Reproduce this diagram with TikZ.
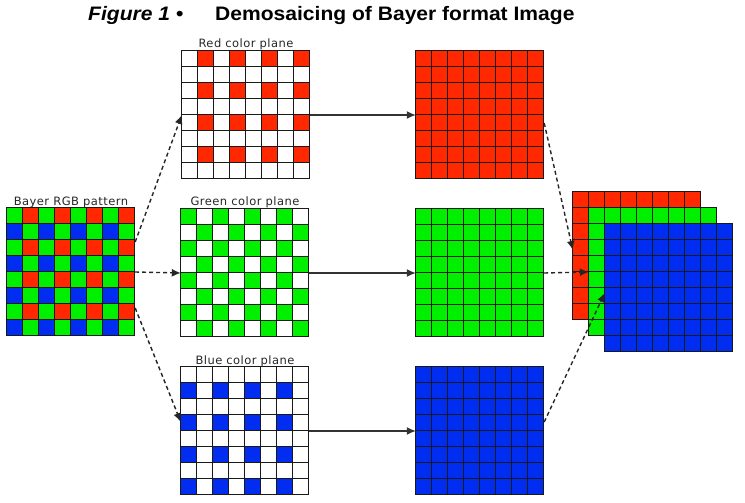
\documentclass[tikz,border=0pt]{standalone}
\usepackage{fontspec}
\setmainfont{Liberation Sans}
\newfontfamily\labelfont[LetterSpace=4]{DejaVu Sans}
\newfontfamily\headfont[FakeStretch=1.08]{Liberation Sans}
\usetikzlibrary{arrows.meta,calc,positioning}

\definecolor{bred}{RGB}{255,40,0}
\definecolor{bgreen}{RGB}{0,240,0}
\definecolor{bblue}{RGB}{0,45,240}

\tikzset{
  plane/.style={minimum size=128pt, inner sep=0pt},
  cellbox/.style={draw=black!90, line width=1.3pt},
  lbl/.style={anchor=base, text=black!85, font=\labelfont\fontsize{11.5}{13}\selectfont},
  dashlink/.style={-{Latex[length=9pt,width=8pt]}, line width=1.4pt, dash pattern=on 4pt off 3pt, draw=black!85},
  solidlink/.style={-{Latex[length=9pt,width=8pt]}, line width=1.3pt, draw=black!80}
}

% fill the 8x8 cells of a plane where the test holds
\newcommand{\cellplane}[3]{%
  \foreach \i in {0,...,7} {\foreach \j in {0,...,7} {
    \pgfmathtruncatemacro\cellon{#3}
    \ifnum\cellon=1
      \filldraw[cellbox, fill=#2] ($(#1.north west)+(16*\i,16*\j)$) rectangle ++(16,16);
    \fi
  }}%
}

\begin{document}
\begin{tikzpicture}[x=1pt, y=-1pt]
    \useasboundingbox (0,0) rectangle (745,503);

    % title
    \node[anchor=base west, inner sep=0pt, font=\headfont\fontsize{19.5}{22}\selectfont\bfseries\itshape] (fig) at (88,21) {Figure 1 \textbullet};
    \node[anchor=base west, inner sep=0pt, font=\headfont\fontsize{19.5}{22}\selectfont\bfseries] (ttl) at (215,21) {Demosaicing of Bayer format Image};

    % planes
    \node[plane] (bayer) at (71,272) {};
    \node[plane] (redp) at (246,115) {};
    \node[plane] (greenp) at (245,273) {};
    \node[plane] (bluep) at (245,431) {};
    \node[plane] (redf) at (480,115) {};
    \node[plane] (greenf) at (480,273) {};
    \node[plane] (bluef) at (480,431) {};
    \node[plane] (redst) at (637,256) {};
    \node[plane] (greenst) at (653,272) {};
    \node[plane] (bluest) at (669,288) {};

    % Bayer mosaic
    \cellplane{bayer}{bgreen}{1}
    \cellplane{bayer}{bred}{and(mod(\j,2)==0, mod(\i,2)==1)}
    \cellplane{bayer}{bblue}{and(mod(\j,2)==1, mod(\i,2)==0)}

    % sparse colour planes
    \cellplane{redp}{white}{1}
    \cellplane{redp}{bred}{and(mod(\j,2)==0, mod(\i,2)==1)}
    \cellplane{greenp}{white}{1}
    \cellplane{greenp}{bgreen}{mod(\i+\j,2)==0}
    \cellplane{bluep}{white}{1}
    \cellplane{bluep}{bblue}{and(mod(\j,2)==1, mod(\i,2)==0)}

    % full planes
    \cellplane{redf}{bred}{1}
    \cellplane{greenf}{bgreen}{1}
    \cellplane{bluef}{bblue}{1}

    % stacked result
    \cellplane{redst}{bred}{1}
    \cellplane{greenst}{bgreen}{1}
    \cellplane{bluest}{bblue}{1}

    % labels
    \node[lbl] (bayerlbl) at ([yshift=2pt]bayer.north) {Bayer RGB pattern};
    \node[lbl] (redlbl) at ([yshift=3pt]redp.north) {Red color plane};
    \node[lbl] (greenlbl) at ([yshift=3pt]greenp.north) {Green color plane};
    \node[lbl] (bluelbl) at ([yshift=2pt]bluep.north) {Blue color plane};

    % links
    \draw[dashlink] ([yshift=30pt]bayer.east) -- (redp.west);
    \draw[dashlink] (bayer.east) -- (greenp.west);
    \draw[dashlink] ([yshift=-36pt]bayer.east) -- ([yshift=9pt]bluep.west);
    \draw[solidlink] (redp.east) -- (redf.west);
    \draw[solidlink] (greenp.east) -- (greenf.west);
    \draw[solidlink] (bluep.east) -- (bluef.west);
    \draw[dashlink] ([yshift=-8pt]redf.east) -- ([yshift=6pt]redst.west);
    \draw[dashlink] (greenf.east) -- (greenst.west);
    \draw[dashlink] ([yshift=9pt]bluef.east) -- ([yshift=-5pt]bluest.west);
\end{tikzpicture}
\end{document}
